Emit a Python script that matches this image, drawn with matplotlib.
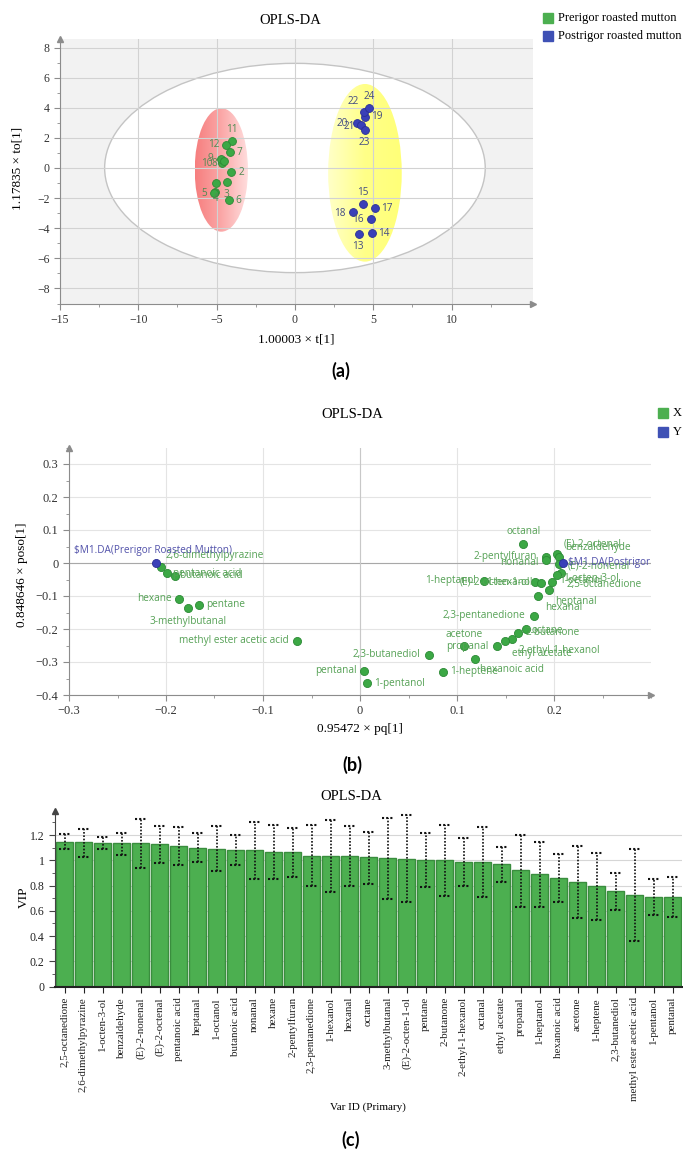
import numpy as np
import matplotlib
matplotlib.use('Agg')
import matplotlib.pyplot as plt
from matplotlib.patches import Ellipse, Rectangle
from matplotlib.colors import LinearSegmentedColormap
from matplotlib.ticker import MultipleLocator, FuncFormatter
from matplotlib.transforms import offset_copy

plt.rcParams['font.family'] = ['Liberation Serif', 'DejaVu Serif']

# ---------------- (a) scores ----------------
pre_ids = ['1', '2', '3', '4', '5', '6', '7', '8', '9', '10', '11', '12']
pre_x = [-5.12, -4.08, -4.36, -5.04, -5.17, -4.19, -4.15, -4.64, -4.74, -4.53, -4.04, -4.42]
pre_y = [-1.62, -0.25, -0.91, -1.02, -1.68, -2.12, 1.08, 0.35, 0.58, 0.46, 1.81, 1.53]

post_ids = ['13', '14', '15', '16', '17', '18', '19', '20', '21', '22', '23', '24']
post_x = [4.08, 4.91, 4.32, 4.85, 5.12, 3.72, 4.47, 3.94, 4.19, 4.42, 4.47, 4.74]
post_y = [-4.36, -4.30, -2.41, -3.39, -2.64, -2.94, 3.41, 2.97, 2.86, 3.70, 2.52, 3.96]

# ---------------- (b) loadings ----------------
load_names = ['2,6-dimethylpyrazine', 'pentanoic acid', 'butanoic acid', 'hexane', 'pentane',
              '3-methylbutanal', 'methyl ester acetic acid', '2,3-butanediol', 'pentanal',
              '1-pentanol', '1-heptene', '2,3-pentanedione', 'octane', '2-butanone',
              '2-ethyl-1-hexanol', 'ethyl acetate', 'propanal', 'acetone', 'hexanoic acid',
              'octanal', '(E)-2-octenal', 'benzaldehyde', '2-pentylfuran', 'nonanal',
              '(E)-2-nonenal', '2,5-octanedione', '1-octen-3-ol', '1-octanol', '1-heptanol',
              '(E)-2-octen-1-ol', '1-hexanol', 'heptanal', 'hexanal']
load_x = [-0.2052, -0.1993, -0.1907, -0.1863, -0.1663, -0.1770, -0.0646, 0.0711, 0.0045,
          0.0069, 0.0852, 0.1794, 0.1711, 0.1633, 0.1570, 0.1495, 0.1409, 0.1072, 0.1186,
          0.1684, 0.2034, 0.2055, 0.1914, 0.1914, 0.2048, 0.2072, 0.2034, 0.1976, 0.1282,
          0.1804, 0.1863, 0.1948, 0.1838]
load_y = [-0.011, -0.031, -0.039, -0.109, -0.127, -0.137, -0.235, -0.278, -0.327,
          -0.365, -0.329, -0.160, -0.201, -0.211, -0.231, -0.237, -0.252, -0.252, -0.290,
          0.057, 0.026, 0.017, 0.019, 0.009, -0.004, -0.029, -0.036, -0.057, -0.054,
          -0.057, -0.060, -0.082, -0.100]

model_names = ['$M1.DA(Prerigor Roasted Mutton)', '$M1.DA(Postrigor Roasted Mutton)']
model_x = [-0.2103, 0.2096]
model_y = [-0.001, 0.001]

# ---------------- (c) VIP ----------------
vip_names = ['2,5-octanedione', '2,6-dimethylpyrazine', '1-octen-3-ol', 'benzaldehyde',
             '(E)-2-nonenal', '(E)-2-octenal', 'pentanoic acid', 'heptanal', '1-octanol',
             'butanoic acid', 'nonanal', 'hexane', '2-pentylfuran', '2,3-pentanedione',
             '1-hexanol', 'hexanal', 'octane', '3-methylbutanal', '(E)-2-octen-1-ol',
             'pentane', '2-butanone', '2-ethyl-1-hexanol', 'octanal', 'ethyl acetate',
             'propanal', '1-heptanol', 'hexanoic acid', 'acetone', '1-heptene',
             '2,3-butanediol', 'methyl ester acetic acid', '1-pentanol', 'pentanal']
vip = [1.145, 1.142, 1.134, 1.134, 1.134, 1.126, 1.115, 1.100, 1.092, 1.084, 1.079,
       1.063, 1.063, 1.036, 1.031, 1.031, 1.023, 1.015, 1.007, 1.000, 1.000, 0.984,
       0.984, 0.968, 0.920, 0.889, 0.857, 0.825, 0.794, 0.754, 0.723, 0.707, 0.707]
vip_high = [1.205, 1.250, 1.187, 1.218, 1.326, 1.271, 1.263, 1.218, 1.274, 1.203, 1.305,
            1.282, 1.258, 1.282, 1.319, 1.274, 1.226, 1.337, 1.356, 1.213, 1.282, 1.179,
            1.261, 1.105, 1.203, 1.145, 1.052, 1.110, 1.060, 0.902, 1.086, 0.849, 0.865]
vip_low = [1.087, 1.026, 1.089, 1.044, 0.936, 0.981, 0.962, 0.984, 0.918, 0.962, 0.849,
           0.849, 0.865, 0.796, 0.749, 0.796, 0.812, 0.691, 0.667, 0.786, 0.717, 0.794,
           0.707, 0.831, 0.630, 0.630, 0.670, 0.546, 0.525, 0.609, 0.364, 0.570, 0.549]

W, H = 683, 1153
fig = plt.figure(figsize=(W / 100, H / 100), dpi=100)


def box(l, t, r, b):
    return [l / W, 1 - b / H, (r - l) / W, (b - t) / H]


def ftext(x, y, s, **kw):
    fig.text(x / W, 1 - y / H, s, **kw)


def fsquare(x, y, size, color):
    fig.add_artist(Rectangle((x / W, 1 - (y + size / 2) / H), size / W, size / H,
                             transform=fig.transFigure, color=color))


def label_at(ax, x, y, s, dx, dy, ha, color, size):
    tr = offset_copy(ax.transData, fig=fig, x=dx, y=-dy, units='dots')
    ax.text(x, y, s, transform=tr, ha=ha, va='center', color=color, fontsize=size,
            family=['Open Sans', 'DejaVu Sans'], clip_on=True, parse_math=False, zorder=4)


def arrows(ax, color, right=True):
    ax.plot(0, 1, marker='^', ms=4, color=color, transform=ax.transAxes, clip_on=False)
    if right:
        ax.plot(1, 0, marker='>', ms=4, color=color, transform=ax.transAxes, clip_on=False)


def shaded_ellipse(ax, center, w, h, colors):
    cmap = LinearSegmentedColormap.from_list('shade', colors)
    cx, cy = center
    im = ax.imshow(np.linspace(0, 1, 256).reshape(1, -1), cmap=cmap,
                   extent=[cx - w / 2, cx + w / 2, cy - h / 2, cy + h / 2],
                   aspect='auto', zorder=1.2, interpolation='bilinear')
    clip = Ellipse(center, w, h, fc='none', ec='none')
    ax.add_patch(clip)
    im.set_clip_path(clip)


fmt = FuncFormatter(lambda v, p: f"{v:g}".replace('-', '\u2212'))

# ======== panel (a) ========
ax1 = fig.add_axes(box(60, 38.5, 533, 303.5))
ax1.set_facecolor('#f2f2f2')
ax1.add_patch(Ellipse((0, 0), 24.3, 13.9, fc='white', ec='#c4c4c4', lw=1, zorder=1))
shaded_ellipse(ax1, (-4.7, -0.13), 3.4, 8.2, ['#f67e7e', '#fba8a8', '#ffe0e0'])
shaded_ellipse(ax1, (4.47, -0.32), 4.7, 11.8, ['#ffffc8', '#ffff88', '#ffff78'])
ax1.scatter(pre_x, pre_y, s=32, c='#3ca845', edgecolors='#2b8a35', linewidths=0.6, zorder=3)
ax1.scatter(post_x, post_y, s=32, c='#3a40b8', edgecolors='#2a2f95', linewidths=0.6, zorder=3)

pre_off = {'2': (10, 1), '3': (0, 13), '4': (0, 15), '5': (-10, 0), '6': (9, 1),
           '7': (9, 1), '8': (-8, 1), '9': (-10, -1), '10': (-17, 2), '11': (0, -11),
           '12': (-12, 0)}
post_off = {'13': (-1, 13), '14': (12, 1), '15': (0, -12), '16': (-13, 0), '17': (12, 1),
            '18': (-13, 1), '19': (12, 0), '20': (-14, 0), '21': (-11, 2), '22': (-11, -11),
            '23': (-1, 12), '24': (0, -12)}
for s, x, y in zip(pre_ids, pre_x, pre_y):
    if s in pre_off:
        label_at(ax1, x, y, s, *pre_off[s], 'center', '#4f8a52', 7.2)
for s, x, y in zip(post_ids, post_x, post_y):
    label_at(ax1, x, y, s, *post_off[s], 'center', '#434c82', 7.2)

ax1.set_xlim(-15, 15.2)
ax1.set_ylim(-9, 8.6)
ax1.set_xticks(range(-15, 11, 5))
ax1.set_yticks(range(-8, 9, 2))
ax1.xaxis.set_minor_locator(MultipleLocator(2.5))
ax1.yaxis.set_minor_locator(MultipleLocator(1))
ax1.xaxis.set_major_formatter(fmt)
ax1.yaxis.set_major_formatter(fmt)
ax1.grid(True, color='#d2d2d2', lw=0.8)
ax1.set_axisbelow('line')
for sp in ['top', 'right']:
    ax1.spines[sp].set_visible(False)
for sp in ['left', 'bottom']:
    ax1.spines[sp].set_color('#8c8c8c')
ax1.tick_params(colors='#8c8c8c', labelcolor='#333333', labelsize=8.5, length=4)
ax1.tick_params(which='minor', colors='#8c8c8c', length=2)
arrows(ax1, '#8c8c8c')

ftext(290, 20, 'OPLS-DA', ha='center', va='center', fontsize=10.5)
ftext(296, 340, '1.00003 \u00d7 t[1]', ha='center', va='center', fontsize=9.5)
ftext(18, 168, '1.17835 \u00d7 to[1]', ha='center', va='center', fontsize=9.5, rotation=90)
ftext(341, 371, '(a)', ha='center', va='center', fontsize=13, fontweight='bold',
      family=['Lato', 'DejaVu Sans'])
fsquare(543, 18, 10, '#4caf50')
fsquare(543, 36, 10, '#3f51b5')
ftext(558, 18, 'Prerigor roasted mutton', va='center', fontsize=9)
ftext(558, 36, 'Postrigor roasted mutton', va='center', fontsize=9)

# ======== panel (b) ========
ax2 = fig.add_axes(box(69, 447.5, 651, 695))
ax2.axhline(0, color='#a8a8a8', lw=0.8, zorder=1.6)
ax2.axvline(0, color='#c8c8c8', lw=0.8, zorder=1.6)
ax2.scatter(load_x, load_y, s=34, c='#3ca845', edgecolors='#2b8a35', linewidths=0.6, zorder=3)
ax2.scatter(model_x, model_y, s=34, c='#3a40b8', edgecolors='#2a2f95', linewidths=0.6, zorder=3)

load_off = {
    '2,6-dimethylpyrazine': (5, -11, 'left'), 'pentanoic acid': (6, 0, 'left'),
    'butanoic acid': (5, 0, 'left'), 'hexane': (-8, 0, 'right'), 'pentane': (7, 0, 'left'),
    '3-methylbutanal': (0, 13, 'center'), 'methyl ester acetic acid': (-9, 0, 'right'),
    '2,3-butanediol': (-9, 0, 'right'), 'pentanal': (-8, 0, 'right'),
    '1-pentanol': (7, 0, 'left'), '1-heptene': (7, 0, 'left'),
    '2,3-pentanedione': (-9, 0, 'right'), 'octane': (6, 1, 'left'),
    '2-butanone': (7, 0, 'left'), '2-ethyl-1-hexanol': (6, 11, 'left'),
    'ethyl acetate': (7, 12, 'left'), 'propanal': (-8, 0, 'right'),
    'acetone': (0, -12, 'center'), 'hexanoic acid': (5, 11, 'left'),
    'octanal': (0, -13, 'center'), '(E)-2-octenal': (6, -10, 'left'),
    'benzaldehyde': (6, -10, 'left'), '2-pentylfuran': (-9, 0, 'right'),
    'nonanal': (-7, 2, 'right'), '(E)-2-nonenal': (9, 2, 'left'),
    '2,5-octanedione': (6, 12, 'left'), '1-octen-3-ol': (6, 4, 'left'),
    '1-octanol': (7, -1, 'left'), '1-heptanol': (-8, 0, 'right'),
    '(E)-2-octen-1-ol': (-5, 0, 'right'), '1-hexanol': (-8, 0, 'right'),
    'heptanal': (6, 11, 'left'), 'hexanal': (7, 12, 'left')}
for s, x, y in zip(load_names, load_x, load_y):
    dx, dy, ha = load_off[s]
    label_at(ax2, x, y, s, dx, dy, ha, '#55a155', 7.2)
label_at(ax2, model_x[0], model_y[0], model_names[0], -3, -13, 'center', '#5252aa', 7.2)
label_at(ax2, model_x[1], model_y[1], model_names[1], 5, 0, 'left', '#5252aa', 7.2)

ax2.set_xlim(-0.3, 0.3)
ax2.set_ylim(-0.4, 0.35)
ax2.set_xticks([-0.3, -0.2, -0.1, 0, 0.1, 0.2])
ax2.set_yticks([-0.4, -0.3, -0.2, -0.1, 0, 0.1, 0.2, 0.3])
ax2.xaxis.set_minor_locator(MultipleLocator(0.05))
ax2.yaxis.set_minor_locator(MultipleLocator(0.05))
ax2.xaxis.set_major_formatter(fmt)
ax2.yaxis.set_major_formatter(fmt)
ax2.grid(True, color='#e4e4e4', lw=0.8)
ax2.set_axisbelow(True)
for sp in ['top', 'right']:
    ax2.spines[sp].set_visible(False)
for sp in ['left', 'bottom']:
    ax2.spines[sp].set_color('#8c8c8c')
ax2.tick_params(colors='#8c8c8c', labelcolor='#333333', labelsize=9, length=4)
ax2.tick_params(which='minor', colors='#8c8c8c', length=2)
arrows(ax2, '#8c8c8c')

ftext(352, 415, 'OPLS-DA', ha='center', va='center', fontsize=10.5)
ftext(360, 729, '0.95472 \u00d7 pq[1]', ha='center', va='center', fontsize=9.5)
ftext(22, 575, '0.848646 \u00d7 poso[1]', ha='center', va='center', fontsize=9.5, rotation=90)
ftext(352, 765, '(b)', ha='center', va='center', fontsize=13, fontweight='bold',
      family=['Lato', 'DejaVu Sans'])
fsquare(658, 413, 10, '#4caf50')
fsquare(658, 432, 10, '#3f51b5')
ftext(673, 413, 'X', va='center', fontsize=9)
ftext(673, 432, 'Y', va='center', fontsize=9)

# ======== panel (c) ========
ax3 = fig.add_axes(box(55, 811, 682, 986.7))
idx = np.arange(len(vip_names))
ax3.bar(idx, vip, width=0.9, color='#4caf50', edgecolor='#3a8d3e', linewidth=1, zorder=2)
ax3.vlines(idx, vip_low, vip_high, colors='#111111', linestyles=(0, (1, 1)), lw=1.2, zorder=3)
ax3.hlines(vip_low, idx - 0.27, idx + 0.27, colors='#111111', linestyles=(0, (1, 1)), lw=1.5, zorder=3)
ax3.hlines(vip_high, idx - 0.27, idx + 0.27, colors='#111111', linestyles=(0, (1, 1)), lw=1.5, zorder=3)
ax3.set_xlim(-0.5, len(vip_names) - 0.5)
ax3.set_ylim(0, 1.39)
ax3.set_xticks(idx)
ax3.set_xticklabels(vip_names, rotation=90, fontsize=7.9)
ax3.set_yticks(np.arange(0, 1.21, 0.2))
ax3.yaxis.set_minor_locator(MultipleLocator(0.1))
ax3.yaxis.set_major_formatter(FuncFormatter(lambda v, p: f"{round(v, 2):g}"))
ax3.grid(True, axis='y', color='#d6d6d6', lw=0.8)
ax3.set_axisbelow(True)
for sp in ['top', 'right']:
    ax3.spines[sp].set_visible(False)
ax3.spines['left'].set_color('#444444')
ax3.spines['bottom'].set_color('#222222')
ax3.spines['bottom'].set_linewidth(1.5)
ax3.tick_params(axis='y', colors='#444444', labelcolor='#222222', labelsize=8.5, length=4)
ax3.tick_params(axis='y', which='minor', colors='#444444', length=2)
ax3.tick_params(axis='x', colors='#222222', length=4)
arrows(ax3, '#444444', right=False)

ftext(351, 796, 'OPLS-DA', ha='center', va='center', fontsize=10.5)
ftext(24, 897, 'VIP', ha='center', va='center', fontsize=9.5, rotation=90)
ftext(368, 1107, 'Var ID (Primary)', ha='center', va='center', fontsize=8)
ftext(351, 1140, '(c)', ha='center', va='center', fontsize=13, fontweight='bold',
      family=['Lato', 'DejaVu Sans'])

fig.savefig('out.png', dpi=100)
